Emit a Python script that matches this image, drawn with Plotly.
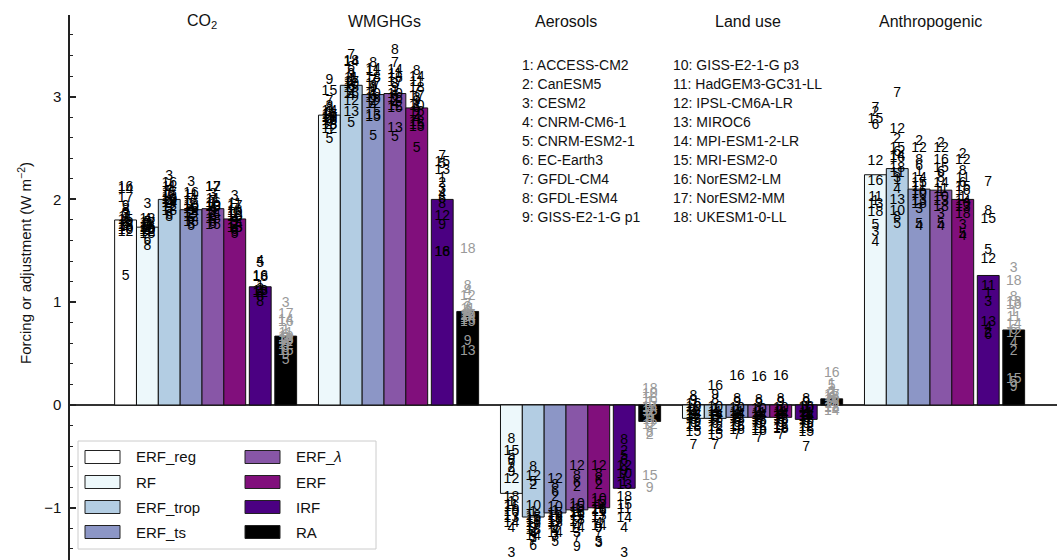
import plotly.graph_objects as go

# ---------------- data ----------------
groups = ["CO<sub>2</sub>", "WMGHGs", "Aerosols", "Land use", "Anthropogenic"]
bar_types = ["ERF_reg", "RF", "ERF_trop", "ERF_ts", "ERF_<i>λ</i>", "ERF", "IRF", "RA"]
models = ["ACCESS-CM2", "CanESM5", "CESM2", "CNRM-CM6-1", "CNRM-ESM2-1", "EC-Earth3",
          "GFDL-CM4", "GFDL-ESM4", "GISS-E2-1-G p1", "GISS-E2-1-G p3", "HadGEM3-GC31-LL",
          "IPSL-CM6A-LR", "MIROC6", "MPI-ESM1-2-LR", "MRI-ESM2-0", "NorESM2-LM",
          "NorESM2-MM", "UKESM1-0-LL"]

# multi-model mean bar heights per group (CO2, WMGHGs, Aerosols, Land use, Anthropogenic)
erf_reg_mean = [1.80, None, None, None, None]
rf_mean = [1.73, 2.82, -0.86, -0.13, 2.24]
erf_trop_mean = [2.00, 3.11, -1.09, -0.13, 2.30]
erf_ts_mean = [1.90, 3.02, -1.05, -0.12, 2.10]
erf_lam_mean = [1.91, 3.03, -1.02, -0.12, 2.09]
erf_mean = [1.81, 2.89, -1.00, -0.12, 2.00]
irf_mean = [1.15, 2.00, -0.81, -0.14, 1.26]
ra_mean = [0.67, 0.91, -0.16, 0.06, 0.73]

# individual model values (model 1..18), None = not available
co2_erf_reg = [1.80, 1.78, 1.85, 1.72, 1.25, 1.76, 1.83, 1.90, 1.93, 1.70, 1.82, 1.68, 1.75, 2.10, 1.79, 2.12, 2.01, 1.73]
co2_rf = [1.74, 1.70, 1.95, 1.80, 1.78, 1.60, 1.76, 1.54, 1.72, 1.70, 1.75, 1.68, 1.80, 1.73, 1.66, 1.72, 1.77, 1.70]
co2_erf_trop = [2.05, 1.98, 2.22, 2.10, 1.90, 1.84, 2.08, 1.82, 1.95, 2.00, 2.12, 1.92, 2.02, 1.96, 1.99, 2.15, 2.06, 1.88]
co2_erf_ts = [1.95, 1.85, 2.16, 1.90, 1.74, 1.80, 2.00, 1.76, 1.88, 1.92, 2.04, 1.82, 1.94, 1.86, 1.90, 2.06, 1.98, 1.78]
co2_erf_lam = [1.95, 1.86, 2.05, 1.90, 1.78, 1.82, 1.98, 1.76, 1.88, 1.93, 2.00, 2.12, 1.92, 1.85, 1.75, 1.96, 2.12, 1.80]
co2_erf = [1.85, 1.75, 2.03, 1.80, 1.66, 1.70, 1.90, 1.68, 1.78, 1.82, 1.95, 1.86, 1.83, 1.76, 1.72, 1.88, 1.93, 1.72]
co2_irf = [1.15, 1.12, 1.10, 1.40, 1.38, 1.05, None, 1.00, None, None, None, 1.08, 1.10, None, None, 1.25, None, 1.24]
co2_ra = [0.72, 0.65, 0.99, 0.60, 0.43, 0.68, 0.62, 0.55, 0.48, 0.66, 0.70, 0.58, 0.63, 0.82, 0.52, 0.80, 0.88, 0.64]

wm_rf = [2.85, 2.78, 2.90, 2.70, 2.58, 2.75, 2.95, 2.88, 3.16, 2.80, 2.83, 2.68, 2.72, 2.86, 3.05, 2.76, 2.82, 2.79]
wm_erf_trop = [3.15, 3.05, 3.20, 3.00, 2.74, 3.10, 3.40, 3.28, 3.22, 3.12, 3.18, 2.95, 2.85, 3.33, 3.08, 3.02, 3.14, 3.34]
wm_erf_ts = [3.05, 2.95, 3.10, 2.90, 2.61, 3.00, 3.15, 3.32, 3.08, 3.02, 3.24, 2.92, 2.82, 3.26, 2.80, 2.98, 3.12, 3.18]
wm_erf_lam = [3.05, 2.95, 3.12, 2.92, 2.60, 3.00, 3.32, 3.45, 3.08, 3.02, 3.22, 2.90, 2.69, 3.25, 2.88, 2.98, 3.14, 3.18]
wm_erf = [2.92, 2.82, 2.98, 2.78, 2.50, 2.88, 3.05, 3.24, 2.95, 2.90, 3.14, 2.75, 2.70, 3.19, 2.72, 2.85, 3.00, 3.08]
wm_irf = [2.20, 2.15, 2.10, 2.05, 2.34, 2.00, 2.42, 1.95, 1.75, None, None, 1.83, 2.28, None, 2.36, 1.48, None, 1.48]
wm_ra = [0.92, 0.88, 0.95, 1.10, 0.85, 0.90, 0.98, 1.15, 0.62, 0.86, 0.93, 1.06, 0.52, 0.84, 0.80, 0.82, 0.87, 1.51]

ae_rf = [-0.95, -0.62, -1.44, -1.20, -0.50, -0.55, -0.58, -0.34, -0.66, -1.05, -0.98, -0.72, -1.10, -1.15, -0.45, -1.00, -1.08, -0.90]
ae_erf_trop = [-1.05, -0.78, -1.30, -1.25, -0.75, -1.38, -1.33, -0.61, -1.20, -0.99, -1.12, -0.70, -1.22, -1.28, -1.10, -1.15, -1.18, -1.08]
ae_erf_ts = [-1.04, -0.90, -1.28, -1.22, -1.34, -0.85, -1.30, -0.78, -1.18, -1.00, -1.10, -0.72, -1.15, -1.25, -1.06, -1.12, -1.14, -1.08]
ae_erf_lam = [-1.02, -0.80, -1.25, -1.18, -1.10, -0.76, -1.30, -0.70, -1.39, -0.97, -1.08, -0.60, -1.12, -1.20, -1.00, -1.05, -1.14, -1.06]
ae_erf = [-0.98, -0.78, -1.35, -1.15, -1.34, -0.74, -1.25, -0.68, -1.20, -0.92, -1.05, -0.60, -1.08, -1.18, -0.95, -1.02, -1.10, -1.03]
ae_irf = [-0.75, -0.45, -1.44, -1.20, -0.50, -0.55, -0.70, -0.35, -0.65, -0.68, -1.02, -0.60, -0.78, -1.10, -0.98, None, None, -0.90]
ae_ra = [0.02, -0.30, -0.10, -0.05, -0.12, -0.18, -0.08, -0.28, -0.81, 0.10, -0.15, -0.20, -0.06, -0.03, -0.70, 0.05, -0.02, 0.15]

lu_rf = [-0.05, -0.10, -0.12, -0.08, -0.15, -0.18, -0.39, 0.08, 0.03, -0.02, -0.06, -0.20, -0.14, -0.09, -0.27, 0.00, -0.11, -0.22]
lu_erf_trop = [-0.04, -0.10, -0.12, -0.08, -0.16, -0.19, -0.39, 0.04, 0.09, -0.02, -0.07, -0.22, -0.14, -0.10, -0.30, 0.18, -0.12, -0.25]
lu_erf_ts = [-0.05, -0.10, -0.13, -0.08, -0.15, -0.18, -0.30, 0.05, 0.02, -0.03, -0.07, -0.20, -0.14, -0.09, -0.22, 0.28, -0.11, -0.25]
lu_erf_lam = [-0.06, -0.11, -0.13, -0.09, -0.16, -0.19, -0.33, 0.04, 0.01, -0.04, -0.08, -0.21, -0.15, -0.10, -0.24, 0.27, -0.12, -0.26]
lu_erf = [-0.05, -0.10, -0.12, -0.08, -0.15, -0.18, -0.30, 0.05, 0.02, -0.03, -0.07, -0.20, -0.14, -0.09, -0.23, 0.28, -0.11, -0.24]
lu_irf = [-0.04, -0.10, -0.13, -0.09, -0.16, -0.19, -0.41, 0.05, 0.02, -0.03, -0.08, -0.22, -0.15, -0.11, -0.27, -0.02, -0.12, -0.24]
lu_ra = [0.20, 0.12, 0.10, 0.08, 0.18, 0.05, 0.03, 0.06, 0.02, 0.04, 0.00, -0.02, 0.07, -0.06, 0.01, 0.31, 0.09, -0.03]

an_rf = [1.98, 2.85, 1.68, 1.58, 1.75, 2.72, 2.88, None, None, None, 2.02, 2.37, 1.95, None, 2.78, 2.17, None, 1.87]
an_erf_trop = [2.18, 2.58, 2.20, 2.10, 1.76, 2.46, 3.03, 1.82, None, 1.88, 2.25, 2.68, 1.99, 2.42, 2.50, 2.40, None, 2.30]
an_erf_ts = [2.26, 2.56, 1.90, 1.74, 1.76, 2.32, None, 2.38, None, 2.05, 2.12, 2.50, 1.98, 2.20, 2.15, 2.08, None, 1.95]
an_erf_lam = [2.07, 2.54, 1.85, 1.74, 1.76, 2.26, None, 2.20, None, 2.02, 2.10, 2.50, 1.98, 2.15, 2.30, 2.38, None, 1.92]
an_erf = [2.02, 2.44, 1.75, 1.64, 1.66, 2.15, None, 2.27, None, 1.95, 2.20, 2.38, 1.92, 1.98, 2.12, 2.08, None, 1.85]
an_irf = [1.08, 0.70, 1.00, 0.75, 1.50, 0.68, 2.16, 1.88, None, None, 1.15, 1.42, 0.80, None, 1.80, None, None, None]
an_ra = [0.90, 0.52, 1.33, 0.60, 0.22, 0.72, None, 1.05, 0.17, None, 0.85, 0.70, 1.00, 0.78, 0.25, 0.97, None, 1.20]

# ---------------- assembly ----------------
bar_colors = ["#ffffff", "#edf8fb", "#b3cde3", "#8c96c6", "#8856a7", "#810f7c", "#4b0082", "#000000"]
bar_offsets = [-0.42, -0.30, -0.18, -0.06, 0.06, 0.18, 0.32, 0.46]
BAR_W = 0.12
means = [erf_reg_mean, rf_mean, erf_trop_mean, erf_ts_mean, erf_lam_mean, erf_mean, irf_mean, ra_mean]
per_model = [
    [co2_erf_reg, None, None, None, None],
    [co2_rf, wm_rf, ae_rf, lu_rf, an_rf],
    [co2_erf_trop, wm_erf_trop, ae_erf_trop, lu_erf_trop, an_erf_trop],
    [co2_erf_ts, wm_erf_ts, ae_erf_ts, lu_erf_ts, an_erf_ts],
    [co2_erf_lam, wm_erf_lam, ae_erf_lam, lu_erf_lam, an_erf_lam],
    [co2_erf, wm_erf, ae_erf, lu_erf, an_erf],
    [co2_irf, wm_irf, ae_irf, lu_irf, an_irf],
    [co2_ra, wm_ra, ae_ra, lu_ra, an_ra],
]

W, H = 1057, 560
ML, MR, MT, MB = 70, 0, 15, 0
X_RANGE = [-0.7253, 4.6978]
Y_RANGE = [-1.508, 3.794]
FONT = "Liberation Sans, Arial, sans-serif"


def px(xp):
    return (xp - ML) / (W - ML - MR)


def py(yp):
    return (H - MB - yp) / (H - MT - MB)


fig = go.Figure()

for b, name in enumerate(bar_types):
    xs, ys = [], []
    for g in range(len(groups)):
        if means[b][g] is not None:
            xs.append(g + bar_offsets[b])
            ys.append(means[b][g])
    fig.add_trace(go.Bar(x=xs, y=ys, width=BAR_W, name=name,
                         marker=dict(color=bar_colors[b], line=dict(color="#111111", width=1)),
                         showlegend=False, hoverinfo="skip"))

for b in range(len(bar_types)):
    col = "#9a9a9a" if bar_types[b] == "RA" else "#000000"
    for g in range(len(groups)):
        vals = per_model[b][g]
        if vals is None:
            continue
        xs, ys, tx = [], [], []
        for m, v in enumerate(vals):
            if v is None:
                continue
            xs.append(g + bar_offsets[b])
            ys.append(v)
            tx.append(str(m + 1))
        fig.add_trace(go.Scatter(x=xs, y=ys, text=tx, mode="text",
                                 textposition="middle center",
                                 textfont=dict(family=FONT, size=14, color=col),
                                 showlegend=False, hoverinfo="skip"))

annotations = []
shapes = []

# group titles
for g, t in enumerate(groups):
    annotations.append(dict(x=g, y=py(22), xref="x", yref="paper", text=t, showarrow=False,
                            font=dict(family=FONT, size=16, color="#111"),
                            xanchor="center", yanchor="middle"))

# model list
for i, m in enumerate(models):
    col = i // 9
    row = i % 9
    annotations.append(dict(x=px(520 if col == 0 else 671), y=py(65 + 19 * row), xref="paper", yref="paper",
                            text=f"{i + 1}: {m}", showarrow=False,
                            font=dict(family=FONT, size=14, color="#111"),
                            xanchor="left", yanchor="middle"))

# y-axis title
annotations.append(dict(x=px(24), y=py(263), xref="paper", yref="paper",
                        text="Forcing or adjustment (W m<sup>−2</sup>)", textangle=-90,
                        showarrow=False, font=dict(family=FONT, size=15, color="#111"),
                        xanchor="center", yanchor="middle"))

# legend box
shapes.append(dict(type="rect", xref="paper", yref="paper", x0=px(78), x1=px(376), y0=py(549), y1=py(441),
                   line=dict(color="#cccccc", width=1), fillcolor="rgba(255,255,255,0.85)", layer="above"))
rows_y = [457, 482, 507, 532]
for b, name in enumerate(bar_types):
    col = b // 4
    row = b % 4
    sx = 85 if col == 0 else 245
    yc = rows_y[row]
    shapes.append(dict(type="rect", xref="paper", yref="paper", x0=px(sx), x1=px(sx + 35),
                       y0=py(yc + 6.5), y1=py(yc - 6.5),
                       line=dict(color="#222", width=1), fillcolor=bar_colors[b], layer="above"))
    annotations.append(dict(x=px(sx + 49), y=py(yc), xref="paper", yref="paper", text=name,
                            showarrow=False, font=dict(family=FONT, size=15, color="#111"),
                            xanchor="left", yanchor="middle"))

fig.update_layout(
    width=W, height=H,
    margin=dict(l=ML, r=MR, t=MT, b=MB, pad=0),
    paper_bgcolor="white", plot_bgcolor="white",
    barmode="overlay",
    showlegend=False,
    font=dict(family=FONT, color="#111"),
    xaxis=dict(range=X_RANGE, visible=False, showgrid=False, zeroline=False),
    yaxis=dict(range=Y_RANGE, tickvals=[-1, 0, 1, 2, 3], ticktext=["−1", "0", "1", "2", "3"],
               ticks="inside", ticklen=6, tickwidth=1.5, tickcolor="#222",
               minor=dict(dtick=0.2, ticks="inside", ticklen=3, tickwidth=1, tickcolor="#222", showgrid=False),
               showline=True, linecolor="#222", linewidth=1.5, mirror=False,
               showgrid=False, zeroline=True, zerolinecolor="#333", zerolinewidth=1.5,
               tickfont=dict(family=FONT, size=15, color="#111"), ticklabelstandoff=4),
    annotations=annotations,
    shapes=shapes,
)

fig.write_html("out.html", config={"displayModeBar": False},
               post_script="document.body.style.margin='0';document.body.style.overflow='hidden';")
